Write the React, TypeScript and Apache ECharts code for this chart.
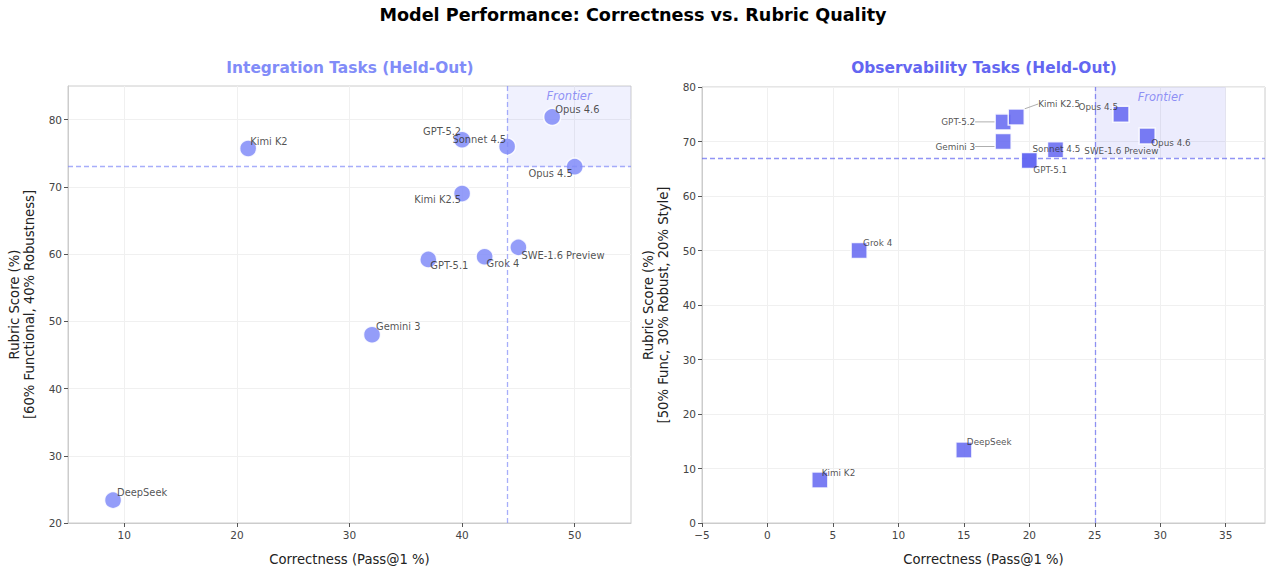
import React, { useEffect, useRef } from "react";
import * as echarts from "echarts";

// ---- Data ----
const intModels = ["DeepSeek", "Gemini 3", "Kimi K2", "Opus 4.6", "GPT-5.2", "Sonnet 4.5", "Opus 4.5", "Kimi K2.5", "GPT-5.1", "Grok 4", "SWE-1.6 Preview"];
const intCorrectness = [9, 32, 21, 48, 40, 44, 50, 40, 37, 42, 45];
const intRubric = [23.4, 48, 75.7, 80.4, 77, 76, 73, 69, 59.2, 59.6, 61];

const obsModels = ["Kimi K2", "DeepSeek", "Grok 4", "GPT-5.2", "Gemini 3", "Kimi K2.5", "SWE-1.6 Preview", "GPT-5.1", "Sonnet 4.5", "Opus 4.5", "Opus 4.6"];
const obsCorrectness = [4, 15, 7, 18, 18, 19, 20, 20, 22, 27, 29];
const obsRubric = [7.9, 13.4, 50, 73.6, 70, 74.5, 66.5, 66.5, 68.5, 75, 71];

const intThreshold = { x: 44, y: 73 };
const obsThreshold = { x: 25, y: 67 };
const intFrontier = { x0: 44, x1: 55, y0: 73, y1: 85 };
const obsFrontier = { x0: 25, x1: 35, y0: 67, y1: 80 };

const intXTicks = [10, 20, 30, 40, 50];
const intYTicks = [20, 30, 40, 50, 60, 70, 80];
const obsXTicks = [-5, 0, 5, 10, 15, 20, 25, 30, 35];
const obsYTicks = [0, 10, 20, 30, 40, 50, 60, 70, 80];

// label placement (pixel offsets from marker centre), align
const intLabelPos: [number, number, string][] = [
  [4, -8, "left"], [4, -8, "left"], [2, -7, "left"], [3, -7, "left"],
  [-1, -8, "right"], [-1, -7, "right"], [-2, 7, "right"], [-1, 6, "right"],
  [2, 6, "left"], [2, 7, "left"], [3, 8, "left"],
];
const obsLabelPos: [number, number, string, boolean][] = [
  [2, -7, "left", false], [3, -8, "left", false], [4, -8, "left", false],
  [-28, 0, "right", true], [-28, 5, "right", true], [22, -13, "left", true],
  [55, -10, "left", false], [4, 9, "left", false], [-23, -1, "left", false],
  [-3, -7, "right", false], [4, 7, "left", false],
];

const FONT = "DejaVu Sans";

export default function App() {
  const ref = useRef<HTMLDivElement>(null);
  useEffect(() => {
    document.body.style.margin = "0";
    const chart = echarts.init(ref.current!, null, { renderer: "svg" });

    const axisCommon = (ticks: number[]) => ({
      axisLine: { show: true, onZero: false, lineStyle: { color: "#cccccc", width: 1 } },
      axisTick: { show: true, length: 4, customValues: ticks, lineStyle: { color: "#555" } },
      axisLabel: {
        customValues: ticks, color: "#444", fontSize: 10.5, fontFamily: FONT, margin: 6,
        formatter: (v: number) => String(v).replace("-", "\u2212"),
      },
      splitLine: { show: true, lineStyle: { color: "#f0f0f0", width: 1 } },
      nameTextStyle: { color: "#222", fontSize: 13.2, fontFamily: FONT, lineHeight: 15 },
    });

    const markAreaCfg = (f: any, color: string) => ({
      silent: true,
      itemStyle: { color, opacity: 1 },
      label: { show: true, position: "insideTop", distance: 4, fontStyle: "italic", fontSize: 11.5, fontFamily: FONT, color: "rgba(99,102,241,0.7)" },
      data: [[{ xAxis: f.x0, yAxis: f.y0, name: "Frontier" }, { xAxis: f.x1, yAxis: f.y1 }]],
    });
    const markLineCfg = (t: any, color: string) => ({
      silent: true,
      symbol: "none",
      label: { show: false },
      lineStyle: { color, type: [5, 3], width: 1.3 },
      data: [{ xAxis: t.x }, { yAxis: t.y }],
    });

    const option: any = {
      animation: false,
      backgroundColor: "#ffffff",
      title: [{
        text: "Model Performance: Correctness vs. Rubric Quality",
        left: "center", top: 6, padding: 0,
        textStyle: { fontFamily: FONT, fontSize: 17.6, fontWeight: "bold", color: "#000" },
      }],
      graphic: [
        { type: "text", x: 350, y: 68, style: { text: "Integration Tasks (Held-Out)", fill: "#818cf8", font: `bold 15.4px "${FONT}"`, textAlign: "center", textVerticalAlign: "middle" } },
        { type: "text", x: 984, y: 68, style: { text: "Observability Tasks (Held-Out)", fill: "#6366f1", font: `bold 15.4px "${FONT}"`, textAlign: "center", textVerticalAlign: "middle" } },
      ],
      grid: [
        { left: 68, top: 86, width: 563, height: 438, show: true, borderColor: "#cccccc", borderWidth: 1, backgroundColor: "transparent" },
        { left: 702, top: 87, width: 563, height: 437, show: true, borderColor: "#cccccc", borderWidth: 1, backgroundColor: "transparent" },
      ],
      xAxis: [
        { ...axisCommon(intXTicks), type: "value", gridIndex: 0, min: 5, max: 55, name: "Correctness (Pass@1 %)", nameLocation: "middle", nameGap: 29 },
        { ...axisCommon(obsXTicks), type: "value", gridIndex: 1, min: -5, max: 38, name: "Correctness (Pass@1 %)", nameLocation: "middle", nameGap: 29 },
      ],
      yAxis: [
        { ...axisCommon(intYTicks), type: "value", gridIndex: 0, min: 20, max: 85, name: "Rubric Score (%)\n[60% Functional, 40% Robustness]", nameLocation: "middle", nameGap: 31 },
        { ...axisCommon(obsYTicks), type: "value", gridIndex: 1, min: 0, max: 80, name: "Rubric Score (%)\n[50% Func, 30% Robust, 20% Style]", nameLocation: "middle", nameGap: 31 },
      ],
      series: [
        {
          type: "scatter",
          xAxisIndex: 0, yAxisIndex: 0,
          symbol: "circle", symbolSize: 17,
          itemStyle: { color: "#818cf8", opacity: 0.85, borderColor: "#ffffff", borderWidth: 1.5 },
          data: intModels.map((n, i) => ({
            name: n, value: [intCorrectness[i], intRubric[i]],
            label: { align: intLabelPos[i][2] },
          })),
          label: { show: true, position: "inside", formatter: "{b}", fontSize: 9.9, fontFamily: FONT, color: "#333", verticalAlign: "middle" },
          labelLayout: (p: any) => ({ dx: intLabelPos[p.dataIndex][0], dy: intLabelPos[p.dataIndex][1] }),
          markArea: markAreaCfg(intFrontier, "rgba(129,140,248,0.12)"),
          markLine: markLineCfg(intThreshold, "rgba(129,140,248,0.7)"),
          z: 3,
        },
        {
          type: "scatter",
          xAxisIndex: 1, yAxisIndex: 1,
          symbol: "rect", symbolSize: 16,
          itemStyle: { color: "#6366f1", opacity: 0.85, borderColor: "#ffffff", borderWidth: 1.5 },
          data: obsModels.map((n, i) => ({
            name: n, value: [obsCorrectness[i], obsRubric[i]],
            label: { align: obsLabelPos[i][2] },
            labelLine: { show: obsLabelPos[i][3] },
          })),
          label: { show: true, position: "inside", formatter: "{b}", fontSize: 8.8, fontFamily: FONT, color: "#333", verticalAlign: "middle" },
          labelLine: { show: false, lineStyle: { color: "#999", width: 0.8 } },
          labelLayout: (p: any) => ({ dx: obsLabelPos[p.dataIndex][0], dy: obsLabelPos[p.dataIndex][1] }),
          markArea: markAreaCfg(obsFrontier, "rgba(99,102,241,0.12)"),
          markLine: markLineCfg(obsThreshold, "rgba(99,102,241,0.7)"),
          z: 3,
        },
      ],
    };
    chart.setOption(option);
    return () => chart.dispose();
  }, []);
  return <div ref={ref} style={{ width: 1266, height: 572 }} />;
}
